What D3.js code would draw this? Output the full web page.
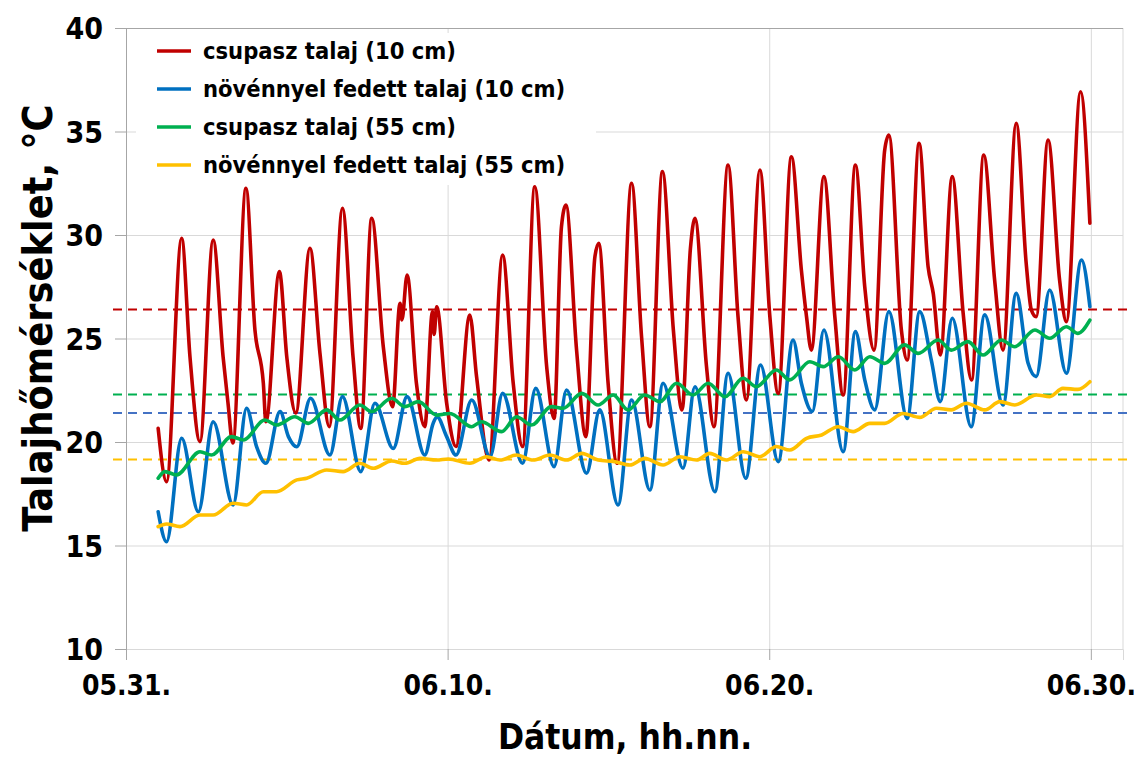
<!DOCTYPE html>
<html>
<head>
<meta charset="utf-8">
<script src="https://cdn.jsdelivr.net/npm/d3@7"></script>
<style>
  body { margin: 0; background: #fff; }
  svg text {
    font-family: "DejaVu Sans Condensed", "DejaVu Sans", sans-serif;
    font-weight: bold;
    font-stretch: condensed;
    fill: #000;
  }
</style>
</head>
<body>
<svg id="chart" width="1137" height="758"></svg>
<script>
// Soil temperature keypoints: [days since 05.31 00:00, °C]
const bareSoil10 = [
  [1.00, 20.66], [1.26, 18.08], [1.73, 29.84], [1.99, 24.1], [2.30, 20.02],
  [2.71, 29.76], [3.02, 24.1], [3.17, 21.9], [3.32, 19.95], [3.73, 32.26],
  [4.01, 25.4], [4.27, 22.84], [4.35, 20.98], [4.77, 28.23], [5.00, 24.1],
  [5.28, 21.4], [5.72, 29.36], [6.03, 24.3], [6.32, 20.74], [6.73, 31.29],
  [7.06, 24.1], [7.30, 20.66], [7.64, 30.81], [8.00, 24.6], [8.29, 21.7],
  [8.52, 26.7], [8.58, 25.9], [8.74, 28.07], [9.03, 22.84], [9.29, 20.74],
  [9.53, 26.3], [9.58, 25.2], [9.66, 26.53], [9.97, 21.87], [10.26, 19.78],
  [10.69, 26.13], [10.90, 23.16], [11.29, 19.13], [11.71, 29.03], [12.04, 22.84],
  [12.33, 19.78], [12.71, 32.33], [13.08, 23.64], [13.31, 21.14], [13.54, 30.4],
  [13.68, 31.45], [14.01, 24.44], [14.30, 20.26], [14.58, 28.95], [14.70, 29.6],
  [14.99, 22.84], [15.27, 18.97], [15.72, 32.5], [16.03, 25.09], [16.29, 20.74],
  [16.68, 33.06], [17.02, 25.4], [17.29, 21.55], [17.55, 29.36], [17.69, 30.81],
  [18.05, 23.64], [18.28, 20.74], [18.72, 33.38], [19.03, 26.05], [19.29, 22.03],
  [19.71, 33.14], [20.02, 26.05], [20.28, 22.35], [20.69, 33.78], [21.00, 28.3],
  [21.16, 26.05], [21.31, 24.44], [21.70, 32.82], [22.04, 26.05], [22.30, 22.27],
  [22.68, 33.38], [22.97, 27.5], [23.26, 24.44], [23.59, 34.1], [23.72, 34.83],
  [24.11, 25.4], [24.29, 23.96], [24.66, 34.43], [24.94, 28.47], [25.10, 27.18],
  [25.32, 24.2], [25.69, 32.82], [26.03, 26.22], [26.29, 23.0], [26.67, 33.86],
  [27.01, 27.8], [27.27, 24.44], [27.68, 35.4], [27.99, 28.63], [28.15, 26.38],
  [28.30, 26.05], [28.67, 34.59], [29.03, 27.8], [29.24, 25.81], [29.68, 36.92],
  [29.97, 30.57]
];

const coveredSoil10 = [
  [1.00, 16.63], [1.26, 15.18], [1.73, 20.18], [2.25, 16.63], [2.71, 20.98],
  [3.33, 16.96], [3.75, 21.63], [4.06, 19.78], [4.35, 18.97], [4.79, 21.47],
  [5.05, 20.26], [5.31, 19.77], [5.74, 22.11], [6.34, 19.37], [6.73, 22.19],
  [7.30, 18.57], [7.74, 21.87], [8.31, 19.69], [8.74, 22.19], [9.29, 19.37],
  [9.55, 20.9], [9.67, 21.22], [9.97, 20.26], [10.26, 19.37], [10.75, 22.03],
  [11.32, 19.29], [11.71, 22.35], [12.33, 18.97], [12.74, 22.59], [13.31, 18.81],
  [13.70, 22.51], [14.32, 18.49], [14.73, 21.55], [15.30, 16.96], [15.72, 22.03],
  [16.29, 17.68], [16.70, 22.84], [17.32, 18.73], [17.69, 22.67], [18.31, 17.6],
  [18.72, 23.32], [19.27, 18.25], [19.73, 23.72], [20.28, 19.05], [20.74, 24.93],
  [21.00, 22.84], [21.34, 21.47], [21.70, 25.41], [22.30, 19.53], [22.68, 25.33],
  [22.97, 23.0], [23.28, 21.55], [23.72, 26.3], [24.29, 21.14], [24.68, 26.3],
  [25.04, 23.96], [25.32, 21.95], [25.69, 25.98], [26.28, 20.74], [26.70, 26.14],
  [27.27, 21.79], [27.68, 27.18], [28.05, 23.8], [28.30, 23.16], [28.72, 27.34],
  [29.24, 23.32], [29.71, 28.79], [29.97, 26.54]
];

const bareSoil55 = [
  [1.00, 18.25], [1.21, 18.57], [1.57, 18.41], [2.30, 19.53], [2.66, 19.37],
  [3.28, 20.26], [3.65, 20.10], [4.32, 21.06], [4.68, 20.82], [5.25, 21.22],
  [5.67, 20.90], [6.24, 21.55], [6.65, 21.06], [7.27, 21.79], [7.64, 21.47],
  [8.26, 22.11], [8.67, 21.71], [9.09, 21.95], [9.66, 21.30], [10.07, 21.38],
  [10.75, 20.74], [11.05, 20.98], [11.68, 20.50], [12.14, 21.22], [12.61, 20.82],
  [13.23, 21.71], [13.59, 21.63], [14.17, 22.35], [14.68, 21.79], [15.15, 22.27],
  [15.61, 21.55], [16.13, 22.27], [16.60, 21.95], [17.12, 22.84], [17.63, 22.27],
  [18.10, 22.84], [18.62, 22.19], [19.19, 23.08], [19.60, 22.67], [20.22, 23.48],
  [20.64, 23.00], [21.26, 23.88], [21.68, 23.64], [22.15, 24.12], [22.66, 23.48],
  [23.13, 24.12], [23.59, 23.80], [24.21, 24.69], [24.63, 24.28], [25.25, 24.93],
  [25.66, 24.44], [26.18, 24.85], [26.65, 24.20], [27.22, 24.93], [27.63, 24.60],
  [28.26, 25.41], [28.72, 25.01], [29.24, 25.57], [29.60, 25.25], [29.97, 25.89]
];

const coveredSoil55 = [
  [1.00, 15.91], [1.26, 16.04], [1.68, 15.91], [2.30, 16.47], [2.71, 16.47],
  [3.33, 17.04], [3.75, 16.96], [4.27, 17.60], [4.68, 17.60], [5.31, 18.17],
  [5.62, 18.25], [6.24, 18.65], [6.75, 18.57], [7.27, 18.97], [7.69, 18.73],
  [8.26, 19.08], [8.67, 18.97], [9.14, 19.21], [9.66, 19.13], [10.02, 19.18],
  [10.69, 18.97], [11.21, 19.29], [11.63, 19.13], [12.14, 19.37], [12.66, 19.13],
  [13.18, 19.37], [13.70, 19.13], [14.17, 19.45], [14.68, 19.13], [15.20, 19.05],
  [15.67, 18.89], [16.13, 19.21], [16.70, 18.89], [17.22, 19.29], [17.74, 19.13],
  [18.15, 19.45], [18.67, 19.13], [19.19, 19.53], [19.71, 19.29], [20.22, 19.78],
  [20.64, 19.61], [21.16, 20.18], [21.63, 20.34], [22.14, 20.74], [22.61, 20.50],
  [23.13, 20.90], [23.59, 20.90], [24.16, 21.38], [24.68, 21.19], [25.20, 21.63],
  [25.66, 21.55], [26.13, 21.87], [26.70, 21.55], [27.17, 21.95], [27.63, 21.79],
  [28.31, 22.27], [28.72, 22.19], [29.13, 22.59], [29.60, 22.54], [29.97, 22.91]
];

const seriesNames = [
  "csupasz talaj (10 cm)",
  "növénnyel fedett talaj (10 cm)",
  "csupasz talaj (55 cm)",
  "növénnyel fedett talaj (55 cm)"
];
const seriesColors = ["#c00000", "#0070c0", "#00b050", "#ffc000"];

// horizontal dashed reference levels, one per series
const referenceLevels = [26.4, 21.4, 22.3, 19.15];
const referenceColors = ["#c00000", "#4472c4", "#00b050", "#ffc000"];

const yTicks = [10, 15, 20, 25, 30, 35, 40];
const xTickDays = [0, 10, 20, 30];
const xTickLabels = ["05.31.", "06.10.", "06.20.", "06.30."];

const series = [bareSoil10, coveredSoil10, bareSoil55, coveredSoil55];

const svg = d3.select("#chart");
const plot = { left: 126, right: 1123, top: 28, bottom: 649 };

const x = d3.scaleLinear().domain([0, 31]).range([plot.left, plot.right]);
const y = d3.scaleLinear().domain([10, 40]).range([plot.bottom, plot.top]);

// gridlines
svg.append("g")
  .attr("transform", `translate(${plot.left},0)`)
  .call(d3.axisLeft(y).tickValues(yTicks).tickSize(-(plot.right - plot.left)).tickFormat(""))
  .call(g => g.select(".domain").remove())
  .call(g => g.selectAll("line").attr("stroke", "#d9d9d9"));

svg.append("g")
  .attr("transform", `translate(0,${plot.bottom})`)
  .call(d3.axisBottom(x).tickValues(xTickDays.slice(1)).tickSize(-(plot.bottom - plot.top)).tickFormat(""))
  .call(g => g.select(".domain").remove())
  .call(g => g.selectAll("line").attr("stroke", "#d9d9d9"));

// plot frame
svg.append("line").attr("x1", plot.right).attr("x2", plot.right)
  .attr("y1", plot.top).attr("y2", plot.bottom).attr("stroke", "#d9d9d9");
svg.append("line").attr("x1", plot.left).attr("x2", plot.right)
  .attr("y1", plot.top + 0.5).attr("y2", plot.top + 0.5).attr("stroke", "#a6a6a6");

// y axis
const yAxis = svg.append("g")
  .attr("transform", `translate(${plot.left},0)`)
  .call(d3.axisLeft(y).tickValues(yTicks).tickSize(11).tickPadding(12).tickFormat(d3.format("d")));
yAxis.select(".domain").attr("stroke", "#a6a6a6");
yAxis.selectAll(".tick line").attr("stroke", "#a6a6a6");
yAxis.selectAll(".tick text").style("font-size", "30px").attr("dy", "0.36em");

// x axis
const xAxis = svg.append("g")
  .attr("transform", `translate(0,${plot.bottom})`)
  .call(d3.axisBottom(x).tickValues(xTickDays).tickSize(11).tickPadding(8)
    .tickFormat((d, i) => xTickLabels[i]));
xAxis.select(".domain").attr("stroke", "#d9d9d9");
xAxis.selectAll(".tick line").attr("stroke", "#a6a6a6");
xAxis.selectAll(".tick text").style("font-size", "28px").attr("dy", "0.95em");

// dashed reference levels
svg.append("g").selectAll("line")
  .data(referenceLevels)
  .join("line")
  .attr("x1", 113).attr("x2", 1132)
  .attr("y1", d => y(d)).attr("y2", d => y(d))
  .attr("stroke", (d, i) => referenceColors[i])
  .attr("stroke-width", 2)
  .attr("stroke-dasharray", "9,6");

// series lines
const line = d3.line()
  .x(d => x(d[0]))
  .y(d => y(d[1]))
  .curve(d3.curveMonotoneX);

svg.append("g").selectAll("path")
  .data(series)
  .join("path")
  .attr("d", line)
  .attr("fill", "none")
  .attr("stroke", (d, i) => seriesColors[i])
  .attr("stroke-width", 3.6)
  .attr("stroke-linejoin", "round")
  .attr("stroke-linecap", "round");

// legend
const legend = svg.append("g");
legend.append("rect")
  .attr("x", 136).attr("y", 33).attr("width", 460).attr("height", 152)
  .attr("fill", "#fff");
const rowY = [51, 89, 127, 165];
const rows = legend.selectAll("g.row")
  .data(seriesNames)
  .join("g")
  .attr("class", "row")
  .attr("transform", (d, i) => `translate(0,${rowY[i]})`);
rows.append("line")
  .attr("x1", 157).attr("x2", 191)
  .attr("stroke", (d, i) => seriesColors[i])
  .attr("stroke-width", 3.6);
rows.append("text")
  .attr("x", 203).attr("y", 8)
  .style("font-size", "23.5px")
  .text(d => d);

// axis titles
svg.append("text")
  .attr("x", 625).attr("y", 749)
  .attr("text-anchor", "middle")
  .style("font-size", "35px")
  .text("Dátum, hh.nn.");

svg.append("text")
  .attr("transform", "translate(52,318) rotate(-90)")
  .attr("text-anchor", "middle")
  .style("font-size", "41px")
  .text("Talajhőmérséklet, °C");
</script>
</body>
</html>
